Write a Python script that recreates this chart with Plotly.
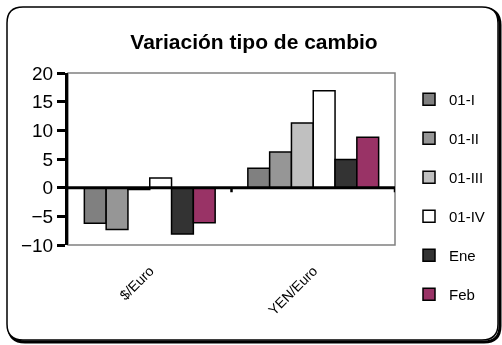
import plotly.graph_objects as go

categories = ["$/Euro", "YEN/Euro"]
series_names = ["01-I", "01-II", "01-III", "01-IV", "Ene", "Feb"]
values_01_I = [-6.2, 3.4]
values_01_II = [-7.3, 6.2]
values_01_III = [-0.3, 11.3]
values_01_IV = [1.7, 16.9]
values_ene = [-8.1, 4.9]
values_feb = [-6.1, 8.8]
series_values = [values_01_I, values_01_II, values_01_III, values_01_IV, values_ene, values_feb]
colors = ["#808080", "#969696", "#C0C0C0", "#FFFFFF", "#333333", "#993366"]
y_ticks = [-10, -5, 0, 5, 10, 15, 20]

W, H = 502, 345
L, R, T, B = 68, 107, 73, 100
PW, PH = W - L - R, H - T - B


def px(x):
    return (x - L) / PW


def py(y):
    return (H - B - y) / PH


fig = go.Figure()
for name, vals, col in zip(series_names, series_values, colors):
    fig.add_trace(go.Bar(
        x=categories, y=vals, name=name, legendgroup=name,
        marker=dict(color=col, line=dict(color="black", width=1.5)),
    ))


def rounded_path(x0, y0, x1, y1, r):
    X0, X1 = px(x0), px(x1)
    Y0, Y1 = py(y0), py(y1)
    rx, ry = r / PW, r / PH
    return (f"M {X0+rx},{Y0} L {X1-rx},{Y0} Q {X1},{Y0} {X1},{Y0-ry} "
            f"L {X1},{Y1+ry} Q {X1},{Y1} {X1-rx},{Y1} "
            f"L {X0+rx},{Y1} Q {X0},{Y1} {X0},{Y1+ry} "
            f"L {X0},{Y0-ry} Q {X0},{Y0} {X0+rx},{Y0} Z")


shapes = [
    # shadow
    dict(type="path", xref="paper", yref="paper", path=rounded_path(9, 9, 500, 342, 16),
         line=dict(color="black", width=3), layer="below"),
    dict(type="path", xref="paper", yref="paper", path=rounded_path(7, 7, 498, 340, 16),
         line=dict(color="black", width=1.5), fillcolor="white", layer="below"),
    # plot area border
    dict(type="rect", xref="x domain", yref="y domain", x0=0, x1=1, y0=0, y1=1,
         line=dict(color="#808080", width=1.5), layer="below"),
    # zero line
    dict(type="line", xref="x domain", yref="y", x0=0, x1=1, y0=0, y1=0,
         line=dict(color="black", width=3), layer="above"),
    # category boundary ticks
    dict(type="line", xref="x", yref="y", x0=0.5, x1=0.5, y0=0, y1=-0.8,
         line=dict(color="black", width=2.5)),
    dict(type="line", xref="x", yref="y", x0=1.5, x1=1.5, y0=0, y1=-0.8,
         line=dict(color="black", width=2.5)),
]

fig.update_layout(
    width=W, height=H,
    margin=dict(l=L, r=R, t=T, b=B),
    paper_bgcolor="rgba(0,0,0,0)", plot_bgcolor="white",
    font=dict(family="Liberation Sans, Arial, sans-serif", color="black"),
    title=dict(text="<b>Variación tipo de cambio</b>", x=254 / W, xanchor="center",
               y=1 - 42 / H, yanchor="middle", yref="container",
               font=dict(size=21, color="black")),
    barmode="group", bargap=0.2, bargroupgap=0,
    showlegend=True,
    legend=dict(x=px(409), xanchor="left", y=py(83), yanchor="top",
                traceorder="grouped", tracegroupgap=16.5, maxheight=400,
                font=dict(size=15), bgcolor="rgba(0,0,0,0)", itemclick=False,
                itemwidth=30),
    shapes=shapes,
)
fig.update_xaxes(range=[-0.5, 1.5], showgrid=False, showline=False, ticks="",
                 tickangle=-45, tickfont=dict(size=14), ticklabelstandoff=14,
                 fixedrange=True)
fig.update_yaxes(range=[-10, 20], tickvals=y_ticks, showgrid=False, zeroline=False,
                 showline=True, linecolor="black", linewidth=3,
                 ticks="outside", ticklen=8, tickwidth=2.5, tickcolor="black",
                 tickfont=dict(size=19), fixedrange=True)

post = ("var d=document.getElementById('{plot_id}');"
        "d.style.position='fixed';d.style.left='0px';d.style.top='0px';"
        "document.documentElement.style.overflow='hidden';"
        "document.body.style.overflow='hidden';document.body.style.margin='0';")
fig.write_html("out.html", config={"displayModeBar": False}, post_script=post)
